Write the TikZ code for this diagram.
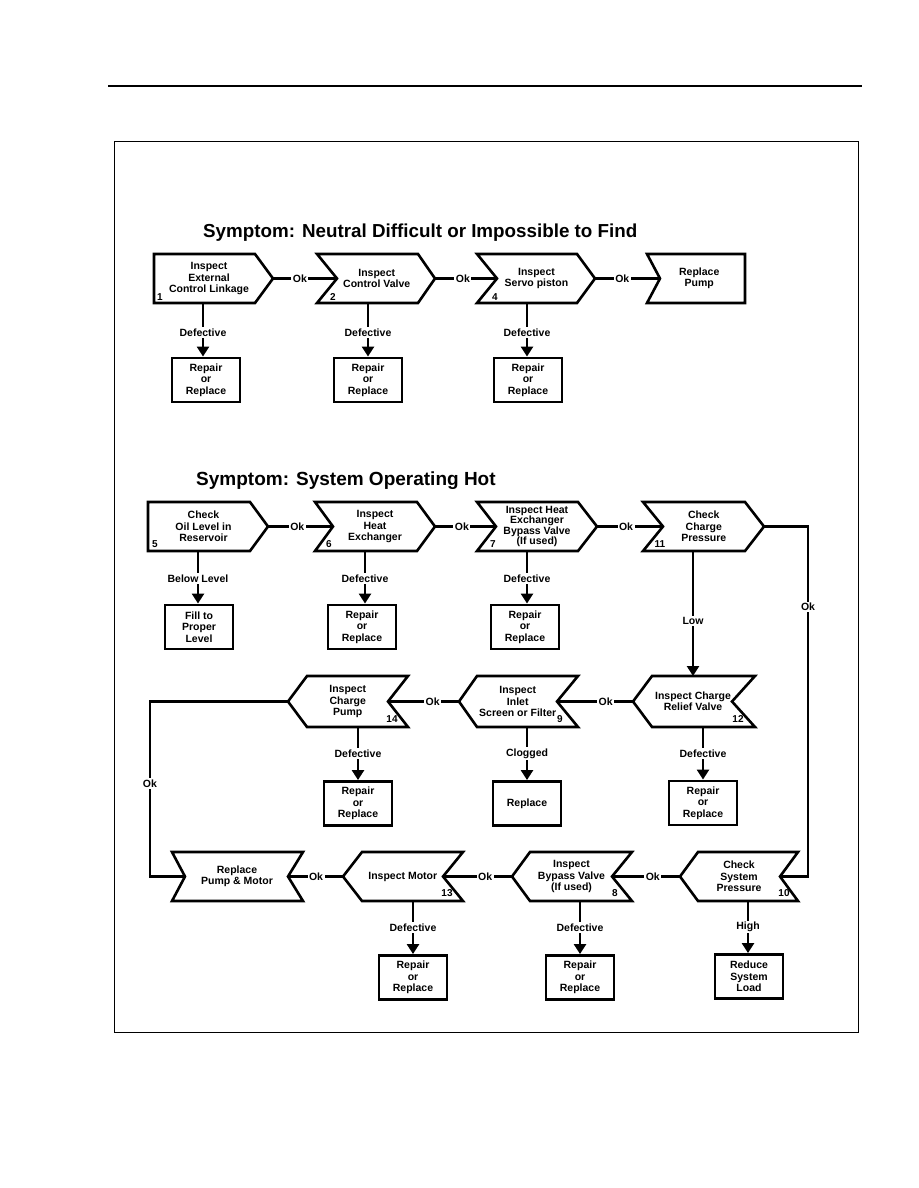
\documentclass[tikz,border=0pt]{standalone}
\usepackage{fontspec}
\setmainfont{Liberation Sans}
\usetikzlibrary{arrows.meta}
\tikzset{
  shp/.style={draw, line width=2.6pt, line join=miter},
  stxt/.style={font=\bfseries\fontsize{10.5}{11.3}\selectfont, align=center, inner sep=0pt},
  boxn/.style={draw, line width=2.9pt, minimum width=68pt, minimum height=44pt, inner sep=0pt,
    font=\bfseries\fontsize{10.5}{11.3}\selectfont, align=center},
  conn/.style={line width=2.2pt},
  arr/.style={line width=2.5pt, -{Triangle[length=10pt,width=12pt]}},
  lbl/.style={font=\bfseries\fontsize{10.5}{11.3}\selectfont, fill=white, inner sep=1.5pt},
  num/.style={font=\bfseries\fontsize{10}{10}\selectfont, inner sep=0pt},
  ttl/.style={font=\bfseries\fontsize{19}{22}\selectfont, inner sep=0pt, anchor=base west}
}
% name, xa (top-left x), xb (left mid x), xc (top-right x), xd (right mid x), ytop, ybot, xdown, text
\newcommand{\fshape}[9]{%
  \draw[shp] (#2,#6) -- (#4,#6) -- (#5,{(#6+#7)/2}) -- (#4,#7) -- (#2,#7) -- (#3,{(#6+#7)/2}) -- cycle;
  \coordinate (#1-l) at (#3,{(#6+#7)/2});
  \coordinate (#1-r) at (#5,{(#6+#7)/2});
  \coordinate (#1-b) at (#8,#7);
  \coordinate (#1-t) at (#8,#6);
  \node[stxt] (#1) at ({(#2+#3+#4+#5)/4},{(#6+#7)/2}) {#9};
}
\begin{document}
\begin{tikzpicture}[x=1pt,y=-1pt]
\useasboundingbox (0,0) rectangle (918,1188);
\fill[white] (0,0) rectangle (918,1188);
% page header rule and frame
\draw[line width=1.3pt] (108,86) -- (862,86);
\draw[line width=0.9pt] (114,141) rectangle (858,1032);

% titles
\node[ttl, font=\bfseries\fontsize{18.8}{22}\selectfont] (t1) at (203,237) {Symptom: Neutral Difficult or Impossible to Find};
\node[ttl] (t2) at (196,485) {Symptom: System Operating Hot};

% ---------- Row 1 ----------
\fshape{s1}{154}{154}{255}{273}{254}{303}{203}{Inspect\\External\\Control Linkage}
\fshape{s2}{317}{337}{418}{435}{254}{303}{368}{Inspect\\Control Valve}
\fshape{s4}{477}{497}{577}{595}{254}{303}{527}{Inspect\\Servo piston}
\fshape{s3}{647}{660}{745}{745}{254}{303}{699}{Replace\\Pump}
\node[num] (n1) at (160,297) {1};
\node[num] (n2) at (333,297) {2};
\node[num] (n4) at (495,297) {4};

\node[boxn] (b1) at (206,380) {Repair\\or\\Replace};
\node[boxn] (b2) at (368,380) {Repair\\or\\Replace};
\node[boxn] (b4) at (528,380) {Repair\\or\\Replace};

\draw[conn] (s1-r) -- node[lbl,pos=0.42]{Ok} (s2-l);
\draw[conn] (s2-r) -- node[lbl,pos=0.45]{Ok} (s4-l);
\draw[conn] (s4-r) -- node[lbl,pos=0.42]{Ok} (s3-l);
\draw[arr] (s1-b) -- node[lbl,pos=0.55]{Defective} (s1-b |- b1.north);
\draw[arr] (s2-b) -- node[lbl,pos=0.55]{Defective} (s2-b |- b2.north);
\draw[arr] (s4-b) -- node[lbl,pos=0.55]{Defective} (s4-b |- b4.north);

% ---------- Row 2 ----------
\fshape{s5}{148}{148}{250}{268}{502}{551}{198}{Check\\Oil Level in\\Reservoir}
\fshape{s6}{315}{333}{417}{435}{502}{551}{365}{Inspect\\Heat\\Exchanger}
\fshape{s7}{477}{496}{578}{597}{502}{551}{527}{Inspect Heat\\[-1.2pt]Exchanger\\[-1.2pt]Bypass Valve\\[-1.2pt](If used)}
\fshape{s11}{643}{663}{745}{764}{502}{551}{693}{Check\\Charge\\Pressure}
\node[num] (n5) at (155,544) {5};
\node[num] (n6) at (329,544) {6};
\node[num] (n7) at (493,544) {7};
\node[num] (n11) at (660,544) {11};

\node[boxn] (b5) at (199,627) {Fill to\\Proper\\Level};
\node[boxn] (b6) at (362,627) {Repair\\or\\Replace};
\node[boxn] (b7) at (525,627) {Repair\\or\\Replace};

\draw[conn] (s5-r) -- node[lbl,pos=0.45]{Ok} (s6-l);
\draw[conn] (s6-r) -- node[lbl,pos=0.44]{Ok} (s7-l);
\draw[conn] (s7-r) -- node[lbl,pos=0.44]{Ok} (s11-l);
\draw[arr] (s5-b) -- node[lbl,pos=0.52]{Below Level} (s5-b |- b5.north);
\draw[arr] (s6-b) -- node[lbl,pos=0.52]{Defective} (s6-b |- b6.north);
\draw[arr] (s7-b) -- node[lbl,pos=0.52]{Defective} (s7-b |- b7.north);

% ---------- Row 3 ----------
\fshape{s14}{307}{288}{408}{388}{676}{727}{358}{Inspect\\Charge\\Pump}
\fshape{s9}{477}{459}{578}{557}{676}{727}{527}{Inspect\\Inlet\\Screen or Filter}
\fshape{s12}{652}{633}{755}{732}{676}{727}{703}{Inspect Charge\\Relief Valve}
\node[num] (n14) at (392,719) {14};
\node[num] (n9) at (560,719) {9};
\node[num] (n12) at (738,719) {12};

\node[boxn] (b14) at (358,803.5) {Repair\\or\\Replace};
\node[boxn] (b9) at (527,803.5) {Replace};
\node[boxn] (b12) at (703,803) {Repair\\or\\Replace};

\draw[arr] (s11-b) -- node[lbl,pos=0.56]{Low} (s11-b |- s12-t);
\draw[conn] (s12-l) -- node[lbl,pos=0.36]{Ok} (s9-r);
\draw[conn] (s9-l) -- node[lbl,pos=0.37]{Ok} (s14-r);
\draw[arr] (s14-b) -- node[lbl,pos=0.5]{Defective} (b14.north);
\draw[arr] (s9-b) -- node[lbl,pos=0.5]{Clogged} (b9.north);
\draw[arr] (s12-b) -- node[lbl,pos=0.5]{Defective} (b12.north);

% ---------- Row 4 ----------
\fshape{s15}{172}{185}{303}{288}{852}{901}{237}{Replace\\Pump \& Motor}
\fshape{s13}{362}{343}{463}{443}{852}{901}{413}{Inspect Motor}
\fshape{s8}{530}{512}{632}{612}{852}{901}{580}{Inspect\\Bypass Valve\\(If used)}
\fshape{s10}{698}{680}{798}{780}{852}{901}{748}{Check\\System\\Pressure}
\node[num] (n13) at (447,893) {13};
\node[num] (n8) at (615,893) {8};
\node[num] (n10) at (784,893) {10};

\node[boxn] (b13) at (413,977.5) {Repair\\or\\Replace};
\node[boxn] (b8) at (580,977.5) {Repair\\or\\Replace};
\node[boxn] (b10) at (749,976.5) {Reduce\\System\\Load};

\draw[conn] (s10-l) -- node[lbl,pos=0.4]{Ok} (s8-r);
\draw[conn] (s8-l) -- node[lbl,pos=0.39]{Ok} (s13-r);
\draw[conn] (s13-l) -- node[lbl,pos=0.49]{Ok} (s15-r);
\draw[arr] (s13-b) -- node[lbl,pos=0.5]{Defective} (b13.north);
\draw[arr] (s8-b) -- node[lbl,pos=0.5]{Defective} (b8.north);
\draw[arr] (s10-b) -- node[lbl,pos=0.5]{High} (s10-b |- b10.north);

% long return connectors
\coordinate (c10) at (808,876.5);
\coordinate (c15) at (150,876.5);
\draw[conn] (s11-r) -- (s11-r -| c10) -- node[lbl,pos=0.23]{Ok} (c10) -- (s10-r);
\draw[conn] (s14-l) -- (s14-l -| c15) -- node[lbl,pos=0.47]{Ok} (c15) -- (s15-l);
\end{tikzpicture}
\end{document}
